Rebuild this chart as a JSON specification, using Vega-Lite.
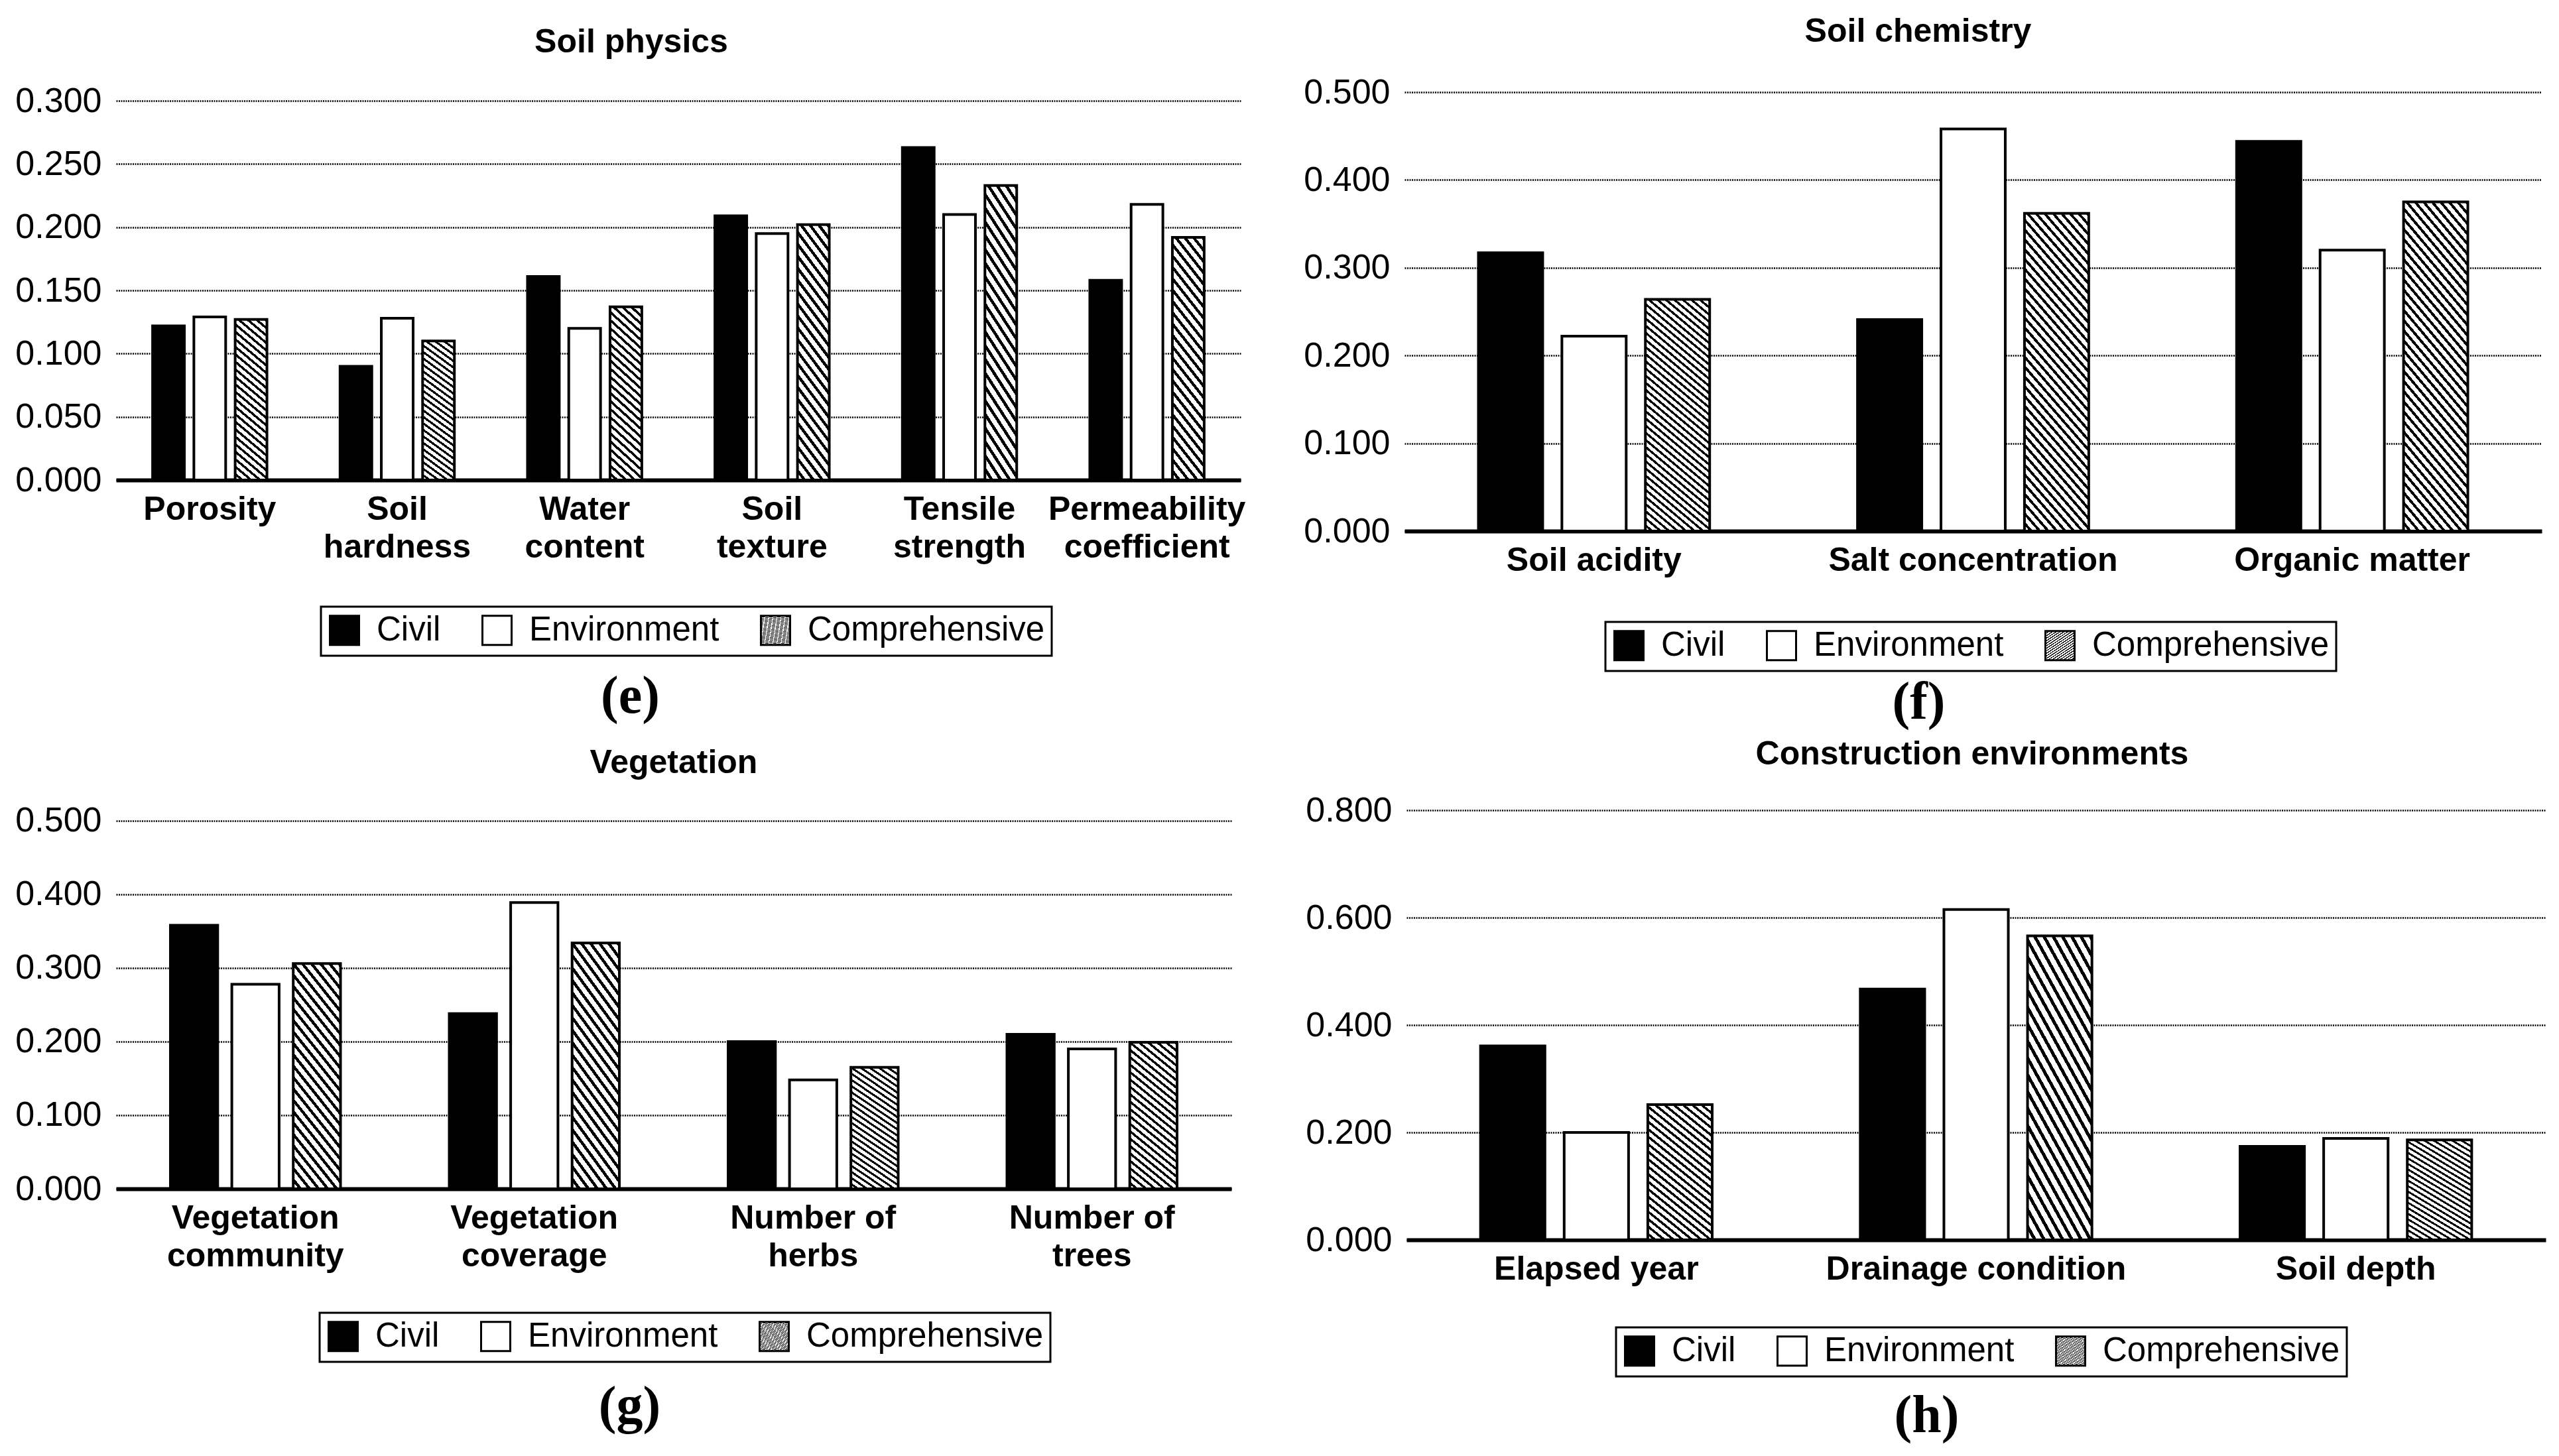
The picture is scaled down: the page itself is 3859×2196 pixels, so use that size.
{
  "$schema": "https://vega.github.io/schema/vega-lite/v6.json",
  "background": "white",
  "padding": {"left": 22, "top": 23, "right": 5, "bottom": 2},
  "params": [
    {"name": "stops25", "value": [
      {"offset": 0, "color": "#fff"}, {"offset": 0.024, "color": "#fff"}, {"offset": 0.024, "color": "#000"}, {"offset": 0.04, "color": "#000"},
      {"offset": 0.04, "color": "#fff"}, {"offset": 0.064, "color": "#fff"}, {"offset": 0.064, "color": "#000"}, {"offset": 0.08, "color": "#000"},
      {"offset": 0.08, "color": "#fff"}, {"offset": 0.104, "color": "#fff"}, {"offset": 0.104, "color": "#000"}, {"offset": 0.12, "color": "#000"},
      {"offset": 0.12, "color": "#fff"}, {"offset": 0.144, "color": "#fff"}, {"offset": 0.144, "color": "#000"}, {"offset": 0.16, "color": "#000"},
      {"offset": 0.16, "color": "#fff"}, {"offset": 0.184, "color": "#fff"}, {"offset": 0.184, "color": "#000"}, {"offset": 0.2, "color": "#000"},
      {"offset": 0.2, "color": "#fff"}, {"offset": 0.224, "color": "#fff"}, {"offset": 0.224, "color": "#000"}, {"offset": 0.24, "color": "#000"},
      {"offset": 0.24, "color": "#fff"}, {"offset": 0.264, "color": "#fff"}, {"offset": 0.264, "color": "#000"}, {"offset": 0.28, "color": "#000"},
      {"offset": 0.28, "color": "#fff"}, {"offset": 0.304, "color": "#fff"}, {"offset": 0.304, "color": "#000"}, {"offset": 0.32, "color": "#000"},
      {"offset": 0.32, "color": "#fff"}, {"offset": 0.344, "color": "#fff"}, {"offset": 0.344, "color": "#000"}, {"offset": 0.36, "color": "#000"},
      {"offset": 0.36, "color": "#fff"}, {"offset": 0.384, "color": "#fff"}, {"offset": 0.384, "color": "#000"}, {"offset": 0.4, "color": "#000"},
      {"offset": 0.4, "color": "#fff"}, {"offset": 0.424, "color": "#fff"}, {"offset": 0.424, "color": "#000"}, {"offset": 0.44, "color": "#000"},
      {"offset": 0.44, "color": "#fff"}, {"offset": 0.464, "color": "#fff"}, {"offset": 0.464, "color": "#000"}, {"offset": 0.48, "color": "#000"},
      {"offset": 0.48, "color": "#fff"}, {"offset": 0.504, "color": "#fff"}, {"offset": 0.504, "color": "#000"}, {"offset": 0.52, "color": "#000"},
      {"offset": 0.52, "color": "#fff"}, {"offset": 0.544, "color": "#fff"}, {"offset": 0.544, "color": "#000"}, {"offset": 0.56, "color": "#000"},
      {"offset": 0.56, "color": "#fff"}, {"offset": 0.584, "color": "#fff"}, {"offset": 0.584, "color": "#000"}, {"offset": 0.6, "color": "#000"},
      {"offset": 0.6, "color": "#fff"}, {"offset": 0.624, "color": "#fff"}, {"offset": 0.624, "color": "#000"}, {"offset": 0.64, "color": "#000"},
      {"offset": 0.64, "color": "#fff"}, {"offset": 0.664, "color": "#fff"}, {"offset": 0.664, "color": "#000"}, {"offset": 0.68, "color": "#000"},
      {"offset": 0.68, "color": "#fff"}, {"offset": 0.704, "color": "#fff"}, {"offset": 0.704, "color": "#000"}, {"offset": 0.72, "color": "#000"},
      {"offset": 0.72, "color": "#fff"}, {"offset": 0.744, "color": "#fff"}, {"offset": 0.744, "color": "#000"}, {"offset": 0.76, "color": "#000"},
      {"offset": 0.76, "color": "#fff"}, {"offset": 0.784, "color": "#fff"}, {"offset": 0.784, "color": "#000"}, {"offset": 0.8, "color": "#000"},
      {"offset": 0.8, "color": "#fff"}, {"offset": 0.824, "color": "#fff"}, {"offset": 0.824, "color": "#000"}, {"offset": 0.84, "color": "#000"},
      {"offset": 0.84, "color": "#fff"}, {"offset": 0.864, "color": "#fff"}, {"offset": 0.864, "color": "#000"}, {"offset": 0.88, "color": "#000"},
      {"offset": 0.88, "color": "#fff"}, {"offset": 0.904, "color": "#fff"}, {"offset": 0.904, "color": "#000"}, {"offset": 0.92, "color": "#000"},
      {"offset": 0.92, "color": "#fff"}, {"offset": 0.944, "color": "#fff"}, {"offset": 0.944, "color": "#000"}, {"offset": 0.96, "color": "#000"},
      {"offset": 0.96, "color": "#fff"}, {"offset": 0.984, "color": "#fff"}, {"offset": 0.984, "color": "#000"}, {"offset": 1, "color": "#000"}
    ]},
    {"name": "stops40", "value": [
      {"offset": 0, "color": "#fff"}, {"offset": 0.015, "color": "#fff"}, {"offset": 0.015, "color": "#000"}, {"offset": 0.025, "color": "#000"},
      {"offset": 0.025, "color": "#fff"}, {"offset": 0.04, "color": "#fff"}, {"offset": 0.04, "color": "#000"}, {"offset": 0.05, "color": "#000"},
      {"offset": 0.05, "color": "#fff"}, {"offset": 0.065, "color": "#fff"}, {"offset": 0.065, "color": "#000"}, {"offset": 0.075, "color": "#000"},
      {"offset": 0.075, "color": "#fff"}, {"offset": 0.09, "color": "#fff"}, {"offset": 0.09, "color": "#000"}, {"offset": 0.1, "color": "#000"},
      {"offset": 0.1, "color": "#fff"}, {"offset": 0.115, "color": "#fff"}, {"offset": 0.115, "color": "#000"}, {"offset": 0.125, "color": "#000"},
      {"offset": 0.125, "color": "#fff"}, {"offset": 0.14, "color": "#fff"}, {"offset": 0.14, "color": "#000"}, {"offset": 0.15, "color": "#000"},
      {"offset": 0.15, "color": "#fff"}, {"offset": 0.165, "color": "#fff"}, {"offset": 0.165, "color": "#000"}, {"offset": 0.175, "color": "#000"},
      {"offset": 0.175, "color": "#fff"}, {"offset": 0.19, "color": "#fff"}, {"offset": 0.19, "color": "#000"}, {"offset": 0.2, "color": "#000"},
      {"offset": 0.2, "color": "#fff"}, {"offset": 0.215, "color": "#fff"}, {"offset": 0.215, "color": "#000"}, {"offset": 0.225, "color": "#000"},
      {"offset": 0.225, "color": "#fff"}, {"offset": 0.24, "color": "#fff"}, {"offset": 0.24, "color": "#000"}, {"offset": 0.25, "color": "#000"},
      {"offset": 0.25, "color": "#fff"}, {"offset": 0.265, "color": "#fff"}, {"offset": 0.265, "color": "#000"}, {"offset": 0.275, "color": "#000"},
      {"offset": 0.275, "color": "#fff"}, {"offset": 0.29, "color": "#fff"}, {"offset": 0.29, "color": "#000"}, {"offset": 0.3, "color": "#000"},
      {"offset": 0.3, "color": "#fff"}, {"offset": 0.315, "color": "#fff"}, {"offset": 0.315, "color": "#000"}, {"offset": 0.325, "color": "#000"},
      {"offset": 0.325, "color": "#fff"}, {"offset": 0.34, "color": "#fff"}, {"offset": 0.34, "color": "#000"}, {"offset": 0.35, "color": "#000"},
      {"offset": 0.35, "color": "#fff"}, {"offset": 0.365, "color": "#fff"}, {"offset": 0.365, "color": "#000"}, {"offset": 0.375, "color": "#000"},
      {"offset": 0.375, "color": "#fff"}, {"offset": 0.39, "color": "#fff"}, {"offset": 0.39, "color": "#000"}, {"offset": 0.4, "color": "#000"},
      {"offset": 0.4, "color": "#fff"}, {"offset": 0.415, "color": "#fff"}, {"offset": 0.415, "color": "#000"}, {"offset": 0.425, "color": "#000"},
      {"offset": 0.425, "color": "#fff"}, {"offset": 0.44, "color": "#fff"}, {"offset": 0.44, "color": "#000"}, {"offset": 0.45, "color": "#000"},
      {"offset": 0.45, "color": "#fff"}, {"offset": 0.465, "color": "#fff"}, {"offset": 0.465, "color": "#000"}, {"offset": 0.475, "color": "#000"},
      {"offset": 0.475, "color": "#fff"}, {"offset": 0.49, "color": "#fff"}, {"offset": 0.49, "color": "#000"}, {"offset": 0.5, "color": "#000"},
      {"offset": 0.5, "color": "#fff"}, {"offset": 0.515, "color": "#fff"}, {"offset": 0.515, "color": "#000"}, {"offset": 0.525, "color": "#000"},
      {"offset": 0.525, "color": "#fff"}, {"offset": 0.54, "color": "#fff"}, {"offset": 0.54, "color": "#000"}, {"offset": 0.55, "color": "#000"},
      {"offset": 0.55, "color": "#fff"}, {"offset": 0.565, "color": "#fff"}, {"offset": 0.565, "color": "#000"}, {"offset": 0.575, "color": "#000"},
      {"offset": 0.575, "color": "#fff"}, {"offset": 0.59, "color": "#fff"}, {"offset": 0.59, "color": "#000"}, {"offset": 0.6, "color": "#000"},
      {"offset": 0.6, "color": "#fff"}, {"offset": 0.615, "color": "#fff"}, {"offset": 0.615, "color": "#000"}, {"offset": 0.625, "color": "#000"},
      {"offset": 0.625, "color": "#fff"}, {"offset": 0.64, "color": "#fff"}, {"offset": 0.64, "color": "#000"}, {"offset": 0.65, "color": "#000"},
      {"offset": 0.65, "color": "#fff"}, {"offset": 0.665, "color": "#fff"}, {"offset": 0.665, "color": "#000"}, {"offset": 0.675, "color": "#000"},
      {"offset": 0.675, "color": "#fff"}, {"offset": 0.69, "color": "#fff"}, {"offset": 0.69, "color": "#000"}, {"offset": 0.7, "color": "#000"},
      {"offset": 0.7, "color": "#fff"}, {"offset": 0.715, "color": "#fff"}, {"offset": 0.715, "color": "#000"}, {"offset": 0.725, "color": "#000"},
      {"offset": 0.725, "color": "#fff"}, {"offset": 0.74, "color": "#fff"}, {"offset": 0.74, "color": "#000"}, {"offset": 0.75, "color": "#000"},
      {"offset": 0.75, "color": "#fff"}, {"offset": 0.765, "color": "#fff"}, {"offset": 0.765, "color": "#000"}, {"offset": 0.775, "color": "#000"},
      {"offset": 0.775, "color": "#fff"}, {"offset": 0.79, "color": "#fff"}, {"offset": 0.79, "color": "#000"}, {"offset": 0.8, "color": "#000"},
      {"offset": 0.8, "color": "#fff"}, {"offset": 0.815, "color": "#fff"}, {"offset": 0.815, "color": "#000"}, {"offset": 0.825, "color": "#000"},
      {"offset": 0.825, "color": "#fff"}, {"offset": 0.84, "color": "#fff"}, {"offset": 0.84, "color": "#000"}, {"offset": 0.85, "color": "#000"},
      {"offset": 0.85, "color": "#fff"}, {"offset": 0.865, "color": "#fff"}, {"offset": 0.865, "color": "#000"}, {"offset": 0.875, "color": "#000"},
      {"offset": 0.875, "color": "#fff"}, {"offset": 0.89, "color": "#fff"}, {"offset": 0.89, "color": "#000"}, {"offset": 0.9, "color": "#000"},
      {"offset": 0.9, "color": "#fff"}, {"offset": 0.915, "color": "#fff"}, {"offset": 0.915, "color": "#000"}, {"offset": 0.925, "color": "#000"},
      {"offset": 0.925, "color": "#fff"}, {"offset": 0.94, "color": "#fff"}, {"offset": 0.94, "color": "#000"}, {"offset": 0.95, "color": "#000"},
      {"offset": 0.95, "color": "#fff"}, {"offset": 0.965, "color": "#fff"}, {"offset": 0.965, "color": "#000"}, {"offset": 0.975, "color": "#000"},
      {"offset": 0.975, "color": "#fff"}, {"offset": 0.99, "color": "#fff"}, {"offset": 0.99, "color": "#000"}, {"offset": 1, "color": "#000"}
    ]},
    {"name": "stops8", "value": [
      {"offset": 0, "color": "#fff"}, {"offset": 0.075, "color": "#fff"}, {"offset": 0.075, "color": "#000"}, {"offset": 0.125, "color": "#000"},
      {"offset": 0.125, "color": "#fff"}, {"offset": 0.2, "color": "#fff"}, {"offset": 0.2, "color": "#000"}, {"offset": 0.25, "color": "#000"},
      {"offset": 0.25, "color": "#fff"}, {"offset": 0.325, "color": "#fff"}, {"offset": 0.325, "color": "#000"}, {"offset": 0.375, "color": "#000"},
      {"offset": 0.375, "color": "#fff"}, {"offset": 0.45, "color": "#fff"}, {"offset": 0.45, "color": "#000"}, {"offset": 0.5, "color": "#000"},
      {"offset": 0.5, "color": "#fff"}, {"offset": 0.575, "color": "#fff"}, {"offset": 0.575, "color": "#000"}, {"offset": 0.625, "color": "#000"},
      {"offset": 0.625, "color": "#fff"}, {"offset": 0.7, "color": "#fff"}, {"offset": 0.7, "color": "#000"}, {"offset": 0.75, "color": "#000"},
      {"offset": 0.75, "color": "#fff"}, {"offset": 0.825, "color": "#fff"}, {"offset": 0.825, "color": "#000"}, {"offset": 0.875, "color": "#000"},
      {"offset": 0.875, "color": "#fff"}, {"offset": 0.95, "color": "#fff"}, {"offset": 0.95, "color": "#000"}, {"offset": 1, "color": "#000"}
    ]},
    {"name": "hatchE", "expr": "{gradient: 'linear', x1: 0, y1: 1, x2: 0.18919, y2: -0.13514, stops: stops25}"},
    {"name": "hatchF", "expr": "{gradient: 'linear', x1: 0, y1: 1, x2: 0.27193, y2: -0.1693, stops: stops40}"},
    {"name": "hatchG", "expr": "{gradient: 'linear', x1: 0, y1: 1, x2: 0.31088, y2: -0.18135, stops: stops25}"},
    {"name": "hatchH", "expr": "{gradient: 'linear', x1: 0, y1: 1, x2: 0.46392, y2: -0.20619, stops: stops25}"},
    {"name": "hatchSq", "expr": "{gradient: 'linear', x1: 0, y1: 1, x2: 1, y2: 0, stops: stops8}"}
  ],
  "datasets": {
    "physics": [
      {"factor": "Porosity", "group": "Civil", "weight": 0.122},
      {"factor": "Porosity", "group": "Environment", "weight": 0.129},
      {"factor": "Porosity", "group": "Comprehensive", "weight": 0.127},
      {"factor": "Soil hardness", "group": "Civil", "weight": 0.090},
      {"factor": "Soil hardness", "group": "Environment", "weight": 0.128},
      {"factor": "Soil hardness", "group": "Comprehensive", "weight": 0.110},
      {"factor": "Water content", "group": "Civil", "weight": 0.161},
      {"factor": "Water content", "group": "Environment", "weight": 0.120},
      {"factor": "Water content", "group": "Comprehensive", "weight": 0.137},
      {"factor": "Soil texture", "group": "Civil", "weight": 0.209},
      {"factor": "Soil texture", "group": "Environment", "weight": 0.195},
      {"factor": "Soil texture", "group": "Comprehensive", "weight": 0.202},
      {"factor": "Tensile strength", "group": "Civil", "weight": 0.263},
      {"factor": "Tensile strength", "group": "Environment", "weight": 0.210},
      {"factor": "Tensile strength", "group": "Comprehensive", "weight": 0.233},
      {"factor": "Permeability coefficient", "group": "Civil", "weight": 0.158},
      {"factor": "Permeability coefficient", "group": "Environment", "weight": 0.218},
      {"factor": "Permeability coefficient", "group": "Comprehensive", "weight": 0.192}
    ],
    "chemistry": [
      {"factor": "Soil acidity", "group": "Civil", "weight": 0.317},
      {"factor": "Soil acidity", "group": "Environment", "weight": 0.222},
      {"factor": "Soil acidity", "group": "Comprehensive", "weight": 0.264},
      {"factor": "Salt concentration", "group": "Civil", "weight": 0.241},
      {"factor": "Salt concentration", "group": "Environment", "weight": 0.458},
      {"factor": "Salt concentration", "group": "Comprehensive", "weight": 0.362},
      {"factor": "Organic matter", "group": "Civil", "weight": 0.444},
      {"factor": "Organic matter", "group": "Environment", "weight": 0.320},
      {"factor": "Organic matter", "group": "Comprehensive", "weight": 0.375}
    ],
    "vegetation": [
      {"factor": "Vegetation community", "group": "Civil", "weight": 0.358},
      {"factor": "Vegetation community", "group": "Environment", "weight": 0.278},
      {"factor": "Vegetation community", "group": "Comprehensive", "weight": 0.306},
      {"factor": "Vegetation coverage", "group": "Civil", "weight": 0.238},
      {"factor": "Vegetation coverage", "group": "Environment", "weight": 0.389},
      {"factor": "Vegetation coverage", "group": "Comprehensive", "weight": 0.334},
      {"factor": "Number of herbs", "group": "Civil", "weight": 0.200},
      {"factor": "Number of herbs", "group": "Environment", "weight": 0.148},
      {"factor": "Number of herbs", "group": "Comprehensive", "weight": 0.165},
      {"factor": "Number of trees", "group": "Civil", "weight": 0.210},
      {"factor": "Number of trees", "group": "Environment", "weight": 0.190},
      {"factor": "Number of trees", "group": "Comprehensive", "weight": 0.199}
    ],
    "construction": [
      {"factor": "Elapsed year", "group": "Civil", "weight": 0.361},
      {"factor": "Elapsed year", "group": "Environment", "weight": 0.200},
      {"factor": "Elapsed year", "group": "Comprehensive", "weight": 0.252},
      {"factor": "Drainage condition", "group": "Civil", "weight": 0.467},
      {"factor": "Drainage condition", "group": "Environment", "weight": 0.615},
      {"factor": "Drainage condition", "group": "Comprehensive", "weight": 0.566},
      {"factor": "Soil depth", "group": "Civil", "weight": 0.174},
      {"factor": "Soil depth", "group": "Environment", "weight": 0.189},
      {"factor": "Soil depth", "group": "Comprehensive", "weight": 0.186}
    ]
  },
  "vconcat": [
    {
      "hconcat": [
        {
          "title": {"text": "Soil physics", "offset": 37, "dx": -71},
          "width": 1696,
          "height": 585,
          "data": {"name": "physics"},
          "mark": {"type": "bar", "stroke": "#000", "strokeWidth": 4},
          "encoding": {
            "x": {"field": "factor", "type": "nominal", "sort": null,
                  "scale": {"paddingInner": 0.39, "paddingOuter": 0.195},
                  "axis": {"labelExpr": "split(datum.label, ' ')", "title": "(e)", "titleX": 775, "titleY": 326}},
            "xOffset": {"field": "group", "type": "nominal", "sort": ["Civil", "Environment", "Comprehensive"], "scale": {"paddingInner": 0.23}},
            "y": {"field": "weight", "type": "quantitative", "scale": {"domain": [0, 0.30682], "nice": false},
                  "axis": {"values": [0, 0.05, 0.1, 0.15, 0.2, 0.25, 0.3]}},
            "fill": {"field": "group", "type": "nominal",
                     "scale": {"domain": ["Civil", "Environment", "Comprehensive"], "range": ["#000", "#fff", {"expr": "hatchE"}]},
                     "legend": {"title": null, "legendX": 309, "legendY": 776,
                                "encode": {"symbols": {"update": {"fill": {"signal": "datum.value === 'Comprehensive' ? hatchSq : datum.value === 'Civil' ? '#000' : '#fff'"}, "stroke": {"value": "#000"}}}}}}
          }
        },
        {
          "title": {"text": "Soil chemistry", "offset": 40, "dx": -83},
          "width": 1715,
          "height": 662,
          "data": {"name": "chemistry"},
          "mark": {"type": "bar", "stroke": "#000", "strokeWidth": 4},
          "encoding": {
            "x": {"field": "factor", "type": "nominal", "sort": null,
                  "scale": {"paddingInner": 0.39, "paddingOuter": 0.195},
                  "axis": {"title": "(f)", "titleX": 775, "titleY": 258}},
            "xOffset": {"field": "group", "type": "nominal", "sort": ["Civil", "Environment", "Comprehensive"], "scale": {"paddingInner": 0.23}},
            "y": {"field": "weight", "type": "quantitative", "scale": {"domain": [0, 0.5], "nice": false},
                  "axis": {"values": [0, 0.1, 0.2, 0.3, 0.4, 0.5]}},
            "fill": {"field": "group", "type": "nominal",
                     "scale": {"domain": ["Civil", "Environment", "Comprehensive"], "range": ["#000", "#fff", {"expr": "hatchF"}]},
                     "legend": {"title": null, "legendX": 303, "legendY": 799,
                                "encode": {"symbols": {"update": {"fill": {"signal": "datum.value === 'Comprehensive' ? hatchSq : datum.value === 'Civil' ? '#000' : '#fff'"}, "stroke": {"value": "#000"}}}}}}
          }
        }
      ],
      "spacing": 87,
      "resolve": {"scale": {"x": "independent", "y": "independent", "xOffset": "independent", "fill": "independent"}, "legend": {"fill": "independent"}}
    },
    {
      "hconcat": [
        {
          "title": {"text": "Vegetation", "offset": 36},
          "width": 1682,
          "height": 571,
          "data": {"name": "vegetation"},
          "mark": {"type": "bar", "stroke": "#000", "strokeWidth": 4},
          "encoding": {
            "x": {"field": "factor", "type": "nominal", "sort": null,
                  "scale": {"paddingInner": 0.39, "paddingOuter": 0.195},
                  "axis": {"labelExpr": "indexof(datum.label, 'Number of') == 0 ? ['Number of', substring(datum.label, 10)] : split(datum.label, ' ')", "title": "(g)", "titleX": 774, "titleY": 328}},
            "xOffset": {"field": "group", "type": "nominal", "sort": ["Civil", "Environment", "Comprehensive"], "scale": {"paddingInner": 0.23}},
            "y": {"field": "weight", "type": "quantitative", "scale": {"domain": [0, 0.51441], "nice": false},
                  "axis": {"values": [0, 0.1, 0.2, 0.3, 0.4, 0.5]}},
            "fill": {"field": "group", "type": "nominal",
                     "scale": {"domain": ["Civil", "Environment", "Comprehensive"], "range": ["#000", "#fff", {"expr": "hatchG"}]},
                     "legend": {"title": null, "legendX": 307, "legendY": 758,
                                "encode": {"symbols": {"update": {"fill": {"signal": "datum.value === 'Comprehensive' ? hatchSq : datum.value === 'Civil' ? '#000' : '#fff'"}, "stroke": {"value": "#000"}}}}}}
          }
        },
        {
          "title": {"text": "Construction environments", "offset": 33, "dx": -6},
          "width": 1718,
          "height": 648,
          "data": {"name": "construction"},
          "mark": {"type": "bar", "stroke": "#000", "strokeWidth": 4},
          "encoding": {
            "x": {"field": "factor", "type": "nominal", "sort": null,
                  "scale": {"paddingInner": 0.39, "paddingOuter": 0.195},
                  "axis": {"title": "(h)", "titleX": 784, "titleY": 265}},
            "xOffset": {"field": "group", "type": "nominal", "sort": ["Civil", "Environment", "Comprehensive"], "scale": {"paddingInner": 0.23}},
            "y": {"field": "weight", "type": "quantitative", "scale": {"domain": [0, 0.8], "nice": false},
                  "axis": {"values": [0, 0.2, 0.4, 0.6, 0.8]}},
            "fill": {"field": "group", "type": "nominal",
                     "scale": {"domain": ["Civil", "Environment", "Comprehensive"], "range": ["#000", "#fff", {"expr": "hatchH"}]},
                     "legend": {"title": null, "legendX": 316, "legendY": 780,
                                "encode": {"symbols": {"update": {"fill": {"signal": "datum.value === 'Comprehensive' ? hatchSq : datum.value === 'Civil' ? '#000' : '#fff'"}, "stroke": {"value": "#000"}}}}}}
          }
        }
      ],
      "spacing": 111,
      "resolve": {"scale": {"x": "independent", "y": "independent", "xOffset": "independent", "fill": "independent"}, "legend": {"fill": "independent"}}
    }
  ],
  "spacing": 14,
  "resolve": {"scale": {"x": "independent", "y": "independent", "xOffset": "independent", "fill": "independent"}, "legend": {"fill": "independent"}},
  "config": {
    "font": "Liberation Sans",
    "view": {"stroke": null},
    "title": {"font": "Liberation Sans", "fontSize": 50, "fontWeight": "bold", "color": "#000", "baseline": "alphabetic", "anchor": "middle"},
    "axisX": {
      "labelAngle": 0, "labelFont": "Liberation Sans", "labelFontSize": 50, "labelFontWeight": "bold", "labelColor": "#000",
      "labelLineHeight": 57, "labelPadding": 19, "labelLimit": 0, "labelOverlap": false,
      "ticks": false, "domainColor": "#000", "domainWidth": 6, "grid": false,
      "titleFont": "Liberation Serif", "titleFontSize": 80, "titleFontWeight": "bold", "titleColor": "#000", "titleBaseline": "middle"
    },
    "axisY": {
      "title": null, "format": ".3f", "labelFont": "Liberation Sans", "labelFontSize": 52, "labelColor": "#000", "labelPadding": 22,
      "ticks": false, "domain": false, "grid": true, "gridColor": "#000", "gridDash": [2, 1.5], "gridWidth": 2.5
    },
    "legend": {
      "orient": "none", "direction": "horizontal", "labelFont": "Liberation Sans", "labelFontSize": 51, "labelColor": "#000",
      "labelOffset": 23, "columnPadding": 56, "padding": 10, "strokeColor": "#000", "strokeWidth": 3, "labelLimit": 0,
      "symbolType": "square", "symbolSize": 1936, "symbolStrokeColor": "#000", "symbolStrokeWidth": 3
    }
  }
}
